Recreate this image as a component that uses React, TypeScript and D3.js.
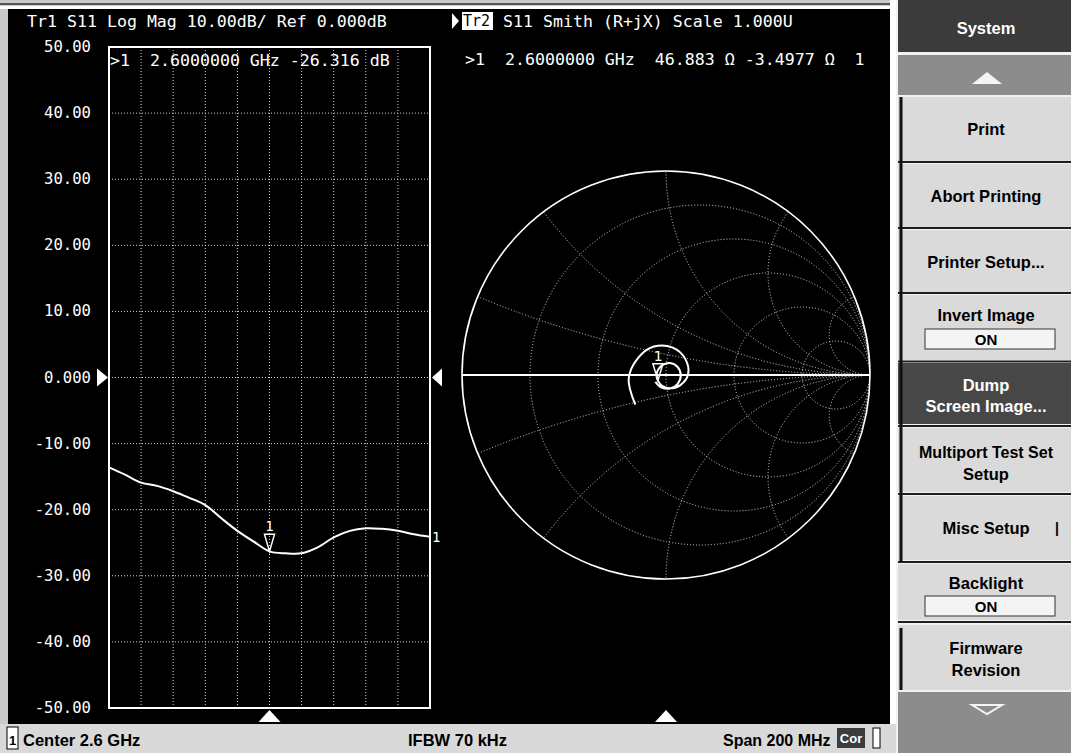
import { useRef, useEffect } from 'react';
import * as d3 from 'd3';

// sweep points, 2.5 .. 2.7 GHz (center 2.6 GHz, span 200 MHz)
const FREQ_GHZ = [2.50, 2.51, 2.52, 2.53, 2.54, 2.55, 2.56, 2.57, 2.58, 2.59, 2.60,
  2.61, 2.62, 2.63, 2.64, 2.65, 2.66, 2.67, 2.68, 2.69, 2.70];
// S11 log magnitude
const S11_DB = [-13.6, -14.7, -15.9, -16.4, -17.2, -18.2, -19.3, -21.3, -23.2, -24.8, -26.3,
  -26.6, -26.6, -25.7, -24.2, -23.2, -22.8, -22.9, -23.2, -23.7, -24.1];
// S11 phase (unwrapped, degrees)
const S11_PHASE = [-136, -174, -211, -247, -284, -320, -358, -395, -431, -468, -505,
  -541, -577, -612, -648, -684, -721, -757, -794, -831, -867];

const DB_TICKS = [50, 40, 30, 20, 10, 0, -10, -20, -30, -40, -50];
const DB_TICK_LABELS = ['50.00', '40.00', '30.00', '20.00', '10.00', '0.000',
  '-10.00', '-20.00', '-30.00', '-40.00', '-50.00'];
const FREQ_GRID = [2.52, 2.54, 2.56, 2.58, 2.60, 2.62, 2.64, 2.66, 2.68];
const SMITH_R = [0.2, 0.5, 1, 2, 5];
const SMITH_X = [0.2, 0.5, 1, 2, 5];
const MARKER_INDEX = 10;

const MONO = '"DejaVu Sans Mono", monospace';
const SANS = '"Liberation Sans", Arial, sans-serif';

export default function App() {
  const ref = useRef<SVGSVGElement | null>(null);

  useEffect(() => {
    if (!ref.current) return;
    const W = 1071, H = 753;
    const svg = d3.select(ref.current).attr('width', W).attr('height', H);
    svg.selectAll('*').remove();

    // page / frame
    svg.append('rect').attr('width', W).attr('height', H).attr('fill', '#c9c9c9');
    svg.append('line').attr('x1', 0).attr('x2', 895).attr('y1', 4).attr('y2', 4)
      .attr('stroke', '#555').attr('stroke-width', 2);
    svg.append('rect').attr('x', 0).attr('y', 6).attr('width', 895).attr('height', 3).attr('fill', '#fff');
    svg.append('rect').attr('x', 890).attr('y', 0).attr('width', 6).attr('height', 724).attr('fill', '#fff');
    svg.append('rect').attr('x', 8).attr('y', 9).attr('width', 882).attr('height', 715).attr('fill', '#000');

    const txt = (x: number, y: number, s: string, o: any = {}) =>
      svg.append('text')
        .attr('x', x).attr('y', y)
        .attr('fill', o.fill ?? '#fff')
        .attr('font-family', o.family ?? MONO)
        .attr('font-size', o.size ?? 16.6)
        .attr('font-weight', o.weight ?? 'normal')
        .attr('text-anchor', o.anchor ?? 'start')
        .attr('dominant-baseline', 'central')
        .style('white-space', 'pre')
        .text(s);

    // ---------- left: log mag ----------
    const x = d3.scaleLinear().domain([2.5, 2.7]).range([109, 430]);
    const y = d3.scaleLinear().domain([-50, 50]).range([708, 47]);

    const grid = svg.append('g').attr('stroke', '#d6d6d6').attr('stroke-width', 1)
      .attr('stroke-dasharray', '1 2');
    grid.selectAll('line.h').data(DB_TICKS.slice(1, -1)).join('line')
      .attr('x1', x(2.5)).attr('x2', x(2.7))
      .attr('y1', d => y(d)).attr('y2', d => y(d));
    grid.selectAll('line.v').data(FREQ_GRID).join('line')
      .attr('x1', d => x(d)).attr('x2', d => x(d))
      .attr('y1', y(50)).attr('y2', y(-50));

    svg.append('rect').attr('x', x(2.5)).attr('y', y(50))
      .attr('width', x(2.7) - x(2.5)).attr('height', y(-50) - y(50))
      .attr('fill', 'none').attr('stroke', '#fff').attr('stroke-width', 2);

    DB_TICKS.forEach((d, i) => txt(91, y(d), DB_TICK_LABELS[i], { anchor: 'end', size: 15.6 }));

    // reference level arrows
    const y0 = y(0);
    svg.append('path').attr('d', `M${x(2.5) - 12},${y0 - 9}L${x(2.5) - 1},${y0}L${x(2.5) - 12},${y0 + 9}Z`).attr('fill', '#fff');
    svg.append('path').attr('d', `M${x(2.7) + 12},${y0 - 9}L${x(2.7) + 2},${y0}L${x(2.7) + 12},${y0 + 9}Z`).attr('fill', '#fff');

    const pts = FREQ_GHZ.map((f, i) => [f, S11_DB[i]] as [number, number]);
    const line = d3.line<[number, number]>().x(d => x(d[0])).y(d => y(d[1])).curve(d3.curveCatmullRom);
    svg.append('path').datum(pts).attr('d', line).attr('fill', 'none')
      .attr('stroke', '#fff').attr('stroke-width', 2);

    const drawMarker = (px: number, py: number) => {
      svg.append('path').attr('d', `M${px - 5},${py - 17}L${px + 5},${py - 17}L${px},${py}Z`)
        .attr('fill', 'none').attr('stroke', '#fff').attr('stroke-width', 1.5);
      txt(px, py - 25, '1', { anchor: 'middle', size: 14 });
    };
    drawMarker(x(FREQ_GHZ[MARKER_INDEX]), y(S11_DB[MARKER_INDEX]));
    txt(x(2.7) + 2, y(S11_DB[S11_DB.length - 1]), '1', { size: 14 });

    // ---------- right: Smith chart ----------
    const gx = d3.scaleLinear().domain([-1, 1]).range([462, 870]);
    const gy = d3.scaleLinear().domain([-1, 1]).range([579, 171]);
    const len = (v: number) => gx(v) - gx(0);

    svg.append('clipPath').attr('id', 'unit')
      .append('circle').attr('cx', gx(0)).attr('cy', gy(0)).attr('r', len(1));

    const sg = svg.append('g').attr('clip-path', 'url(#unit)').attr('fill', 'none')
      .attr('stroke', '#d6d6d6').attr('stroke-width', 1).attr('stroke-dasharray', '1 2');
    sg.selectAll('circle.r').data(SMITH_R).join('circle')
      .attr('cx', r => gx(r / (1 + r))).attr('cy', gy(0)).attr('r', r => len(1 / (1 + r)));
    sg.selectAll('circle.xp').data(SMITH_X).join('circle')
      .attr('cx', gx(1)).attr('cy', v => gy(1 / v)).attr('r', v => len(1 / v));
    sg.selectAll('circle.xn').data(SMITH_X).join('circle')
      .attr('cx', gx(1)).attr('cy', v => gy(-1 / v)).attr('r', v => len(1 / v));

    svg.append('circle').attr('cx', gx(0)).attr('cy', gy(0)).attr('r', len(1))
      .attr('fill', 'none').attr('stroke', '#fff').attr('stroke-width', 1.6);
    svg.append('line').attr('x1', gx(-1)).attr('x2', gx(1)).attr('y1', gy(0)).attr('y2', gy(0))
      .attr('stroke', '#fff').attr('stroke-width', 2);

    const gamma = FREQ_GHZ.map((_, i) => {
      const m = Math.pow(10, S11_DB[i] / 20);
      const a = (S11_PHASE[i] * Math.PI) / 180;
      return [m * Math.cos(a), m * Math.sin(a)] as [number, number];
    });
    const sline = d3.line<[number, number]>().x(d => gx(d[0])).y(d => gy(d[1])).curve(d3.curveCatmullRom);
    svg.append('path').datum(gamma).attr('d', sline).attr('fill', 'none')
      .attr('stroke', '#fff').attr('stroke-width', 2);
    drawMarker(gx(gamma[MARKER_INDEX][0]), gy(gamma[MARKER_INDEX][1]));

    // bottom stimulus triangles
    [x(2.6), gx(0)].forEach(cx => {
      svg.append('path').attr('d', `M${cx - 11},722L${cx},710L${cx + 11},722Z`).attr('fill', '#fff');
    });

    // ---------- header / readouts ----------
    txt(27, 21, 'Tr1 S11 Log Mag 10.00dB/ Ref 0.000dB');
    svg.append('path').attr('d', 'M452,13L459,21L452,29Z').attr('fill', '#fff');
    svg.append('rect').attr('x', 462).attr('y', 12).attr('width', 31).attr('height', 18).attr('fill', '#fff');
    txt(463, 21, 'Tr2', { fill: '#000', size: 15 });
    txt(503, 21, 'S11 Smith (R+jX) Scale 1.000U');
    txt(110, 60, '>1  2.6000000 GHz -26.316 dB');
    txt(465, 59, '>1  2.6000000 GHz  46.883 \u03a9 -3.4977 \u03a9  1');

    // ---------- status bar ----------
    svg.append('rect').attr('x', 0).attr('y', 724).attr('width', 897).attr('height', 29).attr('fill', '#d9d9d9');
    svg.append('rect').attr('x', 7).attr('y', 727).attr('width', 11).attr('height', 22)
      .attr('fill', '#fff').attr('stroke', '#000');
    const st = { fill: '#000', family: SANS, weight: 'bold', size: 16.5 };
    txt(9, 740, '1', { ...st, size: 13 });
    txt(23, 740, 'Center 2.6 GHz', st);
    txt(408, 740, 'IFBW 70 kHz', st);
    txt(723, 740, 'Span 200 MHz', { ...st, size: 16 });
    svg.append('rect').attr('x', 837).attr('y', 728).attr('width', 28).attr('height', 20).attr('fill', '#3c3c3c');
    txt(851, 738, 'Cor', { ...st, fill: '#fff', size: 13, anchor: 'middle' });
    svg.append('rect').attr('x', 873).attr('y', 728).attr('width', 7).attr('height', 20)
      .attr('fill', '#fff').attr('stroke', '#000');

    // ---------- softkey panel ----------
    const panel = svg.append('g');
    panel.append('rect').attr('x', 896).attr('y', 0).attr('width', 175).attr('height', H).attr('fill', '#f2f2f2');
    const band = (y1: number, y2: number, fill: string) =>
      panel.append('rect').attr('x', 898).attr('y', y1).attr('width', 173).attr('height', y2 - y1).attr('fill', fill);
    band(0, 52, '#3b3b3b');
    band(55, 95, '#8c8c8c');
    band(97, 161, '#dadada');
    band(164, 227, '#dadada');
    band(230, 292, '#dadada');
    band(295, 360, '#dadada');
    band(363, 424, '#474747');
    band(428, 492, '#dadada');
    band(496, 560, '#dadada');
    band(564, 620, '#dadada');
    band(625, 690, '#dadada');
    band(692, 753, '#8c8c8c');
    [162, 228, 293, 361.5, 426, 494, 562, 622].forEach(yy =>
      panel.append('line').attr('x1', 898).attr('x2', 1071).attr('y1', yy).attr('y2', yy)
        .attr('stroke', '#1e1e1e').attr('stroke-width', 2));
    panel.append('line').attr('x1', 901).attr('x2', 901).attr('y1', 97).attr('y2', 562)
      .attr('stroke', '#111').attr('stroke-width', 3);
    panel.append('line').attr('x1', 901).attr('x2', 901).attr('y1', 628).attr('y2', 690)
      .attr('stroke', '#111').attr('stroke-width', 3);
    panel.append('path').attr('d', 'M972,84L987,72L1002,84Z').attr('fill', '#f4f4f4');
    panel.append('path').attr('d', 'M972,705L987,714L1002,705Z').attr('fill', 'none').attr('stroke', '#f4f4f4').attr('stroke-width', 2);

    const sk = { fill: '#000', family: SANS, weight: 'bold', size: 16.5, anchor: 'middle' };
    const cxk = 986;
    txt(cxk, 28, 'System', { ...sk, fill: '#fff' });
    txt(cxk, 129, 'Print', sk);
    txt(cxk, 196, 'Abort Printing', sk);
    txt(cxk, 262, 'Printer Setup...', sk);
    txt(cxk, 315, 'Invert Image', sk);
    panel.append('rect').attr('x', 925).attr('y', 329).attr('width', 130).attr('height', 20)
      .attr('fill', '#f4f4f4').attr('stroke', '#333');
    txt(cxk, 339, 'ON', { ...sk, size: 15 });
    txt(cxk, 385, 'Dump', { ...sk, fill: '#fff' });
    txt(cxk, 406, 'Screen Image...', { ...sk, fill: '#fff' });
    txt(cxk, 452, 'Multiport Test Set', { ...sk, size: 16 });
    txt(cxk, 474, 'Setup', sk);
    txt(cxk, 528, 'Misc Setup', sk);
    txt(1057, 528, '|', { ...sk, size: 14 });
    txt(cxk, 583, 'Backlight', sk);
    panel.append('rect').attr('x', 925).attr('y', 596).attr('width', 130).attr('height', 20)
      .attr('fill', '#f4f4f4').attr('stroke', '#333');
    txt(cxk, 606, 'ON', { ...sk, size: 15 });
    txt(cxk, 648, 'Firmware', sk);
    txt(cxk, 670, 'Revision', sk);
  }, []);

  return <svg ref={ref} style={{ position: 'absolute', left: 0, top: 0, display: 'block' }}></svg>;
}
